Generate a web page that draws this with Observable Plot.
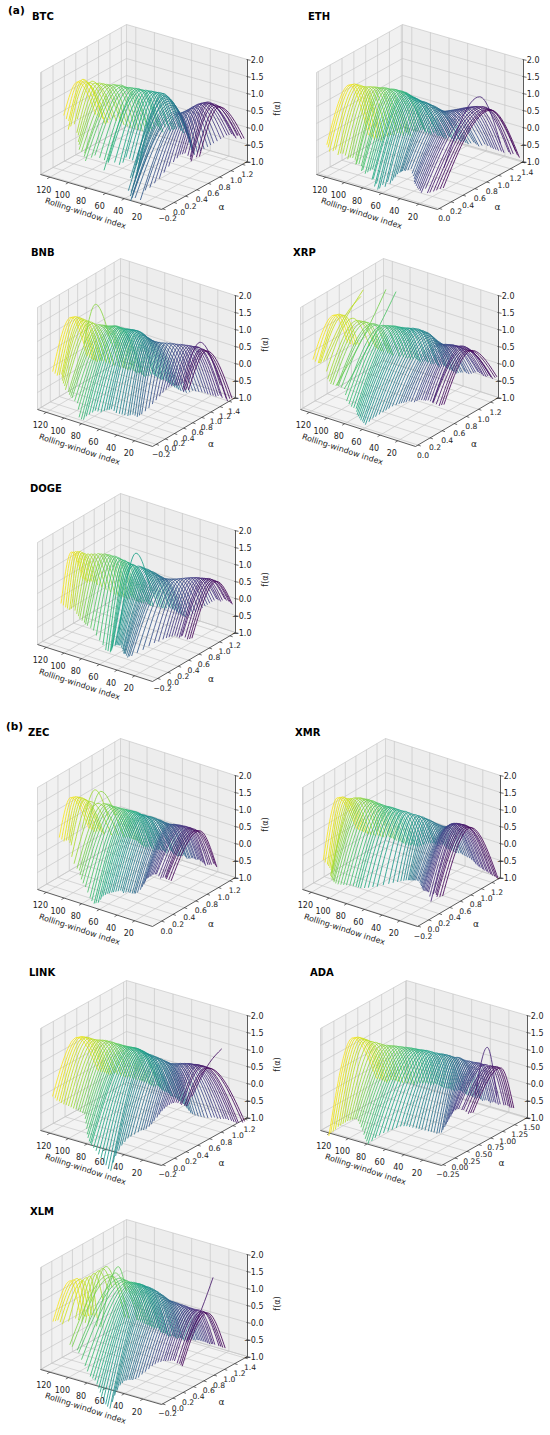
<!DOCTYPE html>
<html><head><meta charset="utf-8">
<script src="https://cdn.jsdelivr.net/npm/d3@7"></script>
<script src="https://cdn.jsdelivr.net/npm/@observablehq/plot@0.6"></script>
<style>
body{margin:0;background:#fff;font-family:"DejaVu Sans",sans-serif;}
#root{position:relative;width:550px;height:1435px;overflow:hidden;background:#fff;}
.panel{position:absolute;width:300px;height:250px;}
.title{position:absolute;font-weight:bold;font-size:10px;line-height:1;color:#000;transform:translateY(-50%);font-family:"DejaVu Sans",sans-serif;}
.tag{position:absolute;font-weight:bold;font-size:10.5px;line-height:1;color:#000;transform:translateY(-50%);font-family:"DejaVu Sans",sans-serif;}
</style></head><body><div id="root"></div>
<script>
// ---------- data ----------
// rolling windows drawn: set A and set B
const WINDOWS_A = [122,118,114,110,106,102,98,94,90,86,82,78,74,70,66,62,58,54,50,46,42,38,34,30,26,22,18,14,10,6,2];
const WINDOWS_B = [120,116,112,108,104,100,96,92,88,84,80,76,72,68,64,60,56,52,48,44,40,36,32,28,24,20,16,12,8,4];
const W_TICKS = [20,40,60,80,100,120];
const F_TICKS = [-1,-0.5,0,0.5,1,1.5,2];
const W_DOMAIN = [0,130];
const F_DOMAIN = [-1,2];
// each row: [alpha0, f(alpha0), alphaMin, f(alphaMin), alphaMax, f(alphaMax)]
const BTC = [
[0.30,1.30,0.06,0.55,0.62,0.05],[0.33,1.38,0.08,0.40,0.68,-0.10],[0.31,1.33,0.05,0.30,0.70,-0.20],[0.36,1.36,0.10,0.50,0.72,-0.05],
[0.42,1.28,0.05,0.10,0.80,-0.20],[0.48,1.22,0.00,-0.10,0.85,-0.35],[0.55,1.18,-0.02,-0.25,0.92,-0.45],[0.60,1.15,-0.04,-0.35,0.98,-0.55],[0.62,1.10,0.02,-0.40,1.00,-0.40],
[0.66,1.08,0.10,-0.45,1.02,-0.50],[0.70,1.05,0.18,-0.60,1.06,-0.40],[0.72,1.02,0.12,-0.55,1.08,-0.55],[0.75,1.00,0.25,-0.70,1.10,-0.35],[0.78,0.98,0.30,-0.50,1.12,-0.45],
[0.80,0.97,0.35,-0.60,1.12,-0.40],[0.82,0.95,0.40,-0.70,1.15,-0.45],[0.80,0.92,0.30,-0.80,1.14,-0.35],[0.78,0.88,0.20,-0.90,1.12,-0.50],[0.76,0.82,0.10,-1.00,1.10,-0.60],
[0.75,0.75,0.00,-1.05,1.05,-0.65],[0.73,0.68,-0.05,-1.15,1.00,-0.72],[0.72,0.65,-0.06,-1.10,0.98,-0.80],[0.74,0.70,0.05,-0.95,1.02,-0.70],[0.76,0.78,0.15,-0.80,1.08,-0.60],[0.78,0.88,0.25,-0.55,1.12,-0.50],
[0.79,0.98,0.35,-0.30,1.18,-0.40],[0.80,1.04,0.40,-0.10,1.22,-0.30],[0.82,1.08,0.42,-0.05,1.24,-0.25],[0.78,1.10,0.45,-0.15,1.25,-0.35],[0.80,1.06,0.40,-0.20,1.22,-0.20],[0.83,1.02,0.48,-0.10,1.26,-0.30]
];
const BTC_B = [
[0.31,1.34,0.07,0.45,0.66,-0.05],[0.32,1.36,0.04,0.20,0.69,-0.25],[0.34,1.32,0.08,0.35,0.71,-0.10],[0.38,1.30,0.06,0.15,0.75,-0.15],
[0.45,1.25,0.02,-0.05,0.82,-0.30],[0.50,1.20,-0.03,-0.20,0.88,-0.40],[0.57,1.16,0.00,-0.30,0.95,-0.50],[0.61,1.12,-0.05,-0.45,0.99,-0.45],[0.64,1.09,0.05,-0.35,1.01,-0.55],
[0.68,1.06,0.15,-0.55,1.04,-0.45],[0.71,1.03,0.08,-0.75,1.07,-0.50],[0.74,1.01,0.20,-0.60,1.09,-0.40],[0.77,0.99,0.28,-0.65,1.11,-0.50],[0.79,0.97,0.33,-0.55,1.12,-0.42],
[0.81,0.96,0.38,-0.75,1.14,-0.38],[0.81,0.93,0.25,-0.95,1.15,-0.50],[0.79,0.90,0.15,-0.85,1.13,-0.45],[0.77,0.85,0.05,-1.10,1.11,-0.55],[0.75,0.78,0.02,-1.20,1.08,-0.62],
[0.74,0.72,-0.04,-1.25,1.03,-0.70],[0.72,0.66,-0.07,-1.00,0.99,-0.78],[0.73,0.67,0.00,-1.20,1.00,-0.75],[0.75,0.74,0.10,-0.90,1.05,-0.65],[0.77,0.83,0.20,-0.70,1.10,-0.55],
[0.78,0.93,0.30,-0.40,1.15,-0.45],[0.80,1.01,0.38,-0.20,1.20,-0.35],[0.81,1.06,0.41,-0.08,1.23,-0.28],[0.79,1.09,0.44,-0.12,1.25,-0.30],[0.81,1.08,0.42,-0.18,1.24,-0.25],[0.82,1.04,0.46,-0.12,1.25,-0.32]
];
const ETH = [
[0.40,1.28,0.02,-0.10,0.72,-0.50],[0.42,1.32,0.00,-0.25,0.76,-0.65],[0.44,1.30,0.04,-0.20,0.78,-0.55],[0.46,1.27,0.06,-0.30,0.80,-0.60],
[0.50,1.26,0.08,-0.35,0.85,-0.50],[0.53,1.25,0.10,-0.40,0.90,-0.45],[0.55,1.24,0.12,-0.45,0.94,-0.55],[0.57,1.25,0.08,-0.50,0.96,-0.50],[0.60,1.22,0.10,-0.55,0.98,-0.40],
[0.62,1.21,0.06,-0.60,1.00,-0.35],[0.63,1.20,0.08,-0.65,1.02,-0.30],[0.64,1.18,0.10,-0.55,1.00,-0.35],[0.62,1.17,0.05,-0.75,1.03,-0.40],[0.61,1.16,0.04,-0.85,1.05,-0.30],
[0.60,1.15,0.03,-0.95,1.05,-0.40],[0.59,1.13,0.06,-0.90,1.06,-0.45],[0.61,1.10,0.08,-0.80,1.08,-0.40],[0.63,1.05,0.10,-0.60,1.10,-0.50],[0.65,1.00,0.12,-0.45,1.12,-0.45],
[0.66,0.95,0.10,-0.35,1.13,-0.50],[0.67,0.90,0.09,-0.30,1.15,-0.55],[0.70,0.88,0.12,-0.25,1.18,-0.50],[0.74,0.90,0.10,-0.40,1.20,-0.60],[0.78,0.92,0.05,-0.50,1.24,-0.55],[0.82,0.95,0.02,-0.55,1.28,-0.65],
[0.85,0.98,0.00,-0.60,1.30,-0.70],[0.88,1.00,-0.02,-0.65,1.33,-0.75],[0.90,1.30,0.30,-0.20,1.25,-0.40],[0.91,1.02,0.00,-0.60,1.36,-0.80],[0.92,0.98,0.05,-0.55,1.38,-0.70],[0.90,1.00,0.10,-0.50,1.38,-0.85]
];
const ETH_B = [
[0.41,1.30,0.01,-0.15,0.74,-0.55],[0.43,1.31,0.03,-0.25,0.77,-0.60],[0.45,1.28,0.05,-0.35,0.79,-0.65],[0.48,1.26,0.07,-0.30,0.83,-0.55],
[0.52,1.25,0.09,-0.45,0.88,-0.50],[0.54,1.24,0.11,-0.40,0.92,-0.50],[0.56,1.25,0.10,-0.55,0.95,-0.45],[0.58,1.23,0.09,-0.50,0.97,-0.55],[0.61,1.22,0.07,-0.65,0.99,-0.38],
[0.62,1.20,0.07,-0.70,1.01,-0.32],[0.63,1.19,0.09,-0.60,1.01,-0.33],[0.63,1.17,0.06,-0.80,1.02,-0.38],[0.61,1.16,0.04,-0.95,1.04,-0.35],[0.60,1.15,0.03,-1.00,1.05,-0.42],
[0.60,1.14,0.05,-0.85,1.06,-0.42],[0.60,1.11,0.07,-0.75,1.07,-0.45],[0.62,1.08,0.09,-0.70,1.09,-0.45],[0.64,1.02,0.11,-0.50,1.11,-0.48],[0.65,0.97,0.11,-0.40,1.12,-0.50],
[0.66,0.92,0.10,-0.32,1.14,-0.52],[0.68,0.89,0.10,-0.28,1.16,-0.52],[0.72,0.89,0.11,-0.35,1.19,-0.55],[0.76,0.91,0.08,-0.45,1.22,-0.58],[0.80,0.93,0.03,-0.52,1.26,-0.60],
[0.83,0.96,0.01,-0.58,1.29,-0.68],[0.86,0.99,-0.01,-0.62,1.31,-0.72],[0.89,1.01,0.02,-0.55,1.34,-0.78],[0.90,1.03,-0.01,-0.62,1.36,-0.75],[0.91,1.00,0.03,-0.58,1.37,-0.78],[0.91,0.99,0.08,-0.52,1.38,-0.80]
];
const BNB = [
[0.30,1.32,-0.10,0.05,0.66,-0.10],[0.32,1.36,-0.08,-0.05,0.70,-0.20],[0.34,1.34,-0.06,0.00,0.72,-0.25],[0.36,1.30,-0.12,-0.10,0.75,-0.20],
[0.42,1.22,-0.15,-0.20,0.85,-0.35],[0.45,1.75,0.20,0.80,0.75,0.60],[0.52,1.12,-0.20,-0.35,0.98,-0.50],[0.55,1.10,-0.22,-0.40,1.00,-0.55],[0.57,1.12,-0.18,-0.55,1.02,-0.50],
[0.58,1.15,-0.22,-0.90,1.04,-0.60],[0.58,1.14,-0.20,-0.95,1.05,-0.55],[0.57,1.16,-0.15,-0.80,1.06,-0.65],[0.59,1.15,-0.10,-0.70,1.08,-0.60],[0.58,1.18,-0.05,-0.75,1.10,-0.55],
[0.58,1.20,0.00,-0.70,1.10,-0.60],[0.57,1.22,0.02,-0.65,1.12,-0.65],[0.58,1.18,0.05,-0.75,1.10,-0.60],[0.56,1.15,0.10,-0.80,1.13,-0.70],[0.56,1.12,0.15,-0.85,1.14,-0.75],
[0.55,1.10,0.18,-0.80,1.15,-0.80],[0.56,1.08,0.20,-0.85,1.16,-0.85],[0.60,1.05,0.22,-0.75,1.20,-0.90],[0.68,1.00,0.30,-0.60,1.26,-0.85],[0.76,0.95,0.38,-0.40,1.32,-0.90],[0.84,0.90,0.45,-0.20,1.38,-0.95],
[0.90,0.86,0.50,-0.05,1.42,-1.00],[0.93,0.84,0.55,0.00,1.46,-1.05],[0.95,0.85,0.56,0.02,1.48,-1.00],[0.96,1.00,0.60,0.10,1.40,-0.60],[0.94,0.83,0.52,-0.05,1.48,-1.10],[0.95,0.82,0.55,0.00,1.50,-1.00]
];
const BNB_B = [
[0.31,1.34,-0.09,0.00,0.68,-0.15],[0.33,1.35,-0.07,-0.02,0.71,-0.22],[0.35,1.32,-0.09,-0.05,0.74,-0.22],[0.39,1.26,-0.14,-0.15,0.80,-0.28],
[0.44,1.18,-0.17,-0.28,0.90,-0.42],[0.49,1.14,-0.18,-0.30,0.95,-0.48],[0.54,1.11,-0.21,-0.38,0.99,-0.52],[0.56,1.11,-0.20,-0.48,1.01,-0.52],[0.58,1.13,-0.20,-0.70,1.03,-0.55],
[0.58,1.15,-0.21,-0.95,1.05,-0.58],[0.57,1.15,-0.18,-0.85,1.05,-0.60],[0.58,1.15,-0.12,-0.75,1.07,-0.62],[0.58,1.17,-0.08,-0.72,1.09,-0.58],[0.58,1.19,-0.02,-0.72,1.10,-0.58],
[0.57,1.21,0.01,-0.68,1.11,-0.62],[0.58,1.20,0.04,-0.70,1.11,-0.62],[0.57,1.16,0.08,-0.78,1.12,-0.65],[0.56,1.13,0.12,-0.82,1.13,-0.72],[0.55,1.11,0.16,-0.82,1.14,-0.78],
[0.55,1.09,0.19,-0.82,1.15,-0.82],[0.58,1.06,0.21,-0.80,1.18,-0.88],[0.64,1.02,0.26,-0.68,1.23,-0.88],[0.72,0.98,0.34,-0.50,1.29,-0.88],[0.80,0.92,0.42,-0.30,1.35,-0.92],
[0.87,0.88,0.48,-0.12,1.40,-0.98],[0.92,0.85,0.52,-0.02,1.44,-1.02],[0.94,0.84,0.55,0.01,1.47,-1.02],[0.95,0.84,0.58,0.05,1.48,-1.05],[0.95,0.83,0.54,-0.02,1.49,-1.05],[0.94,0.82,0.53,0.00,1.49,-1.02]
];
const XRP = [
[0.40,1.38,0.05,0.45,0.62,0.35],[0.42,1.42,0.08,0.35,0.66,0.25],[0.44,1.40,0.06,0.40,0.68,0.30],[0.45,1.45,0.10,0.50,0.70,1.90],
[0.55,1.20,0.06,0.00,0.85,0.10],[0.60,1.15,0.05,-0.10,0.88,0.00],[0.65,1.10,0.08,-0.15,0.90,1.80],[0.66,1.08,0.06,-0.10,0.92,-0.05],[0.68,1.05,0.10,-0.20,0.95,1.75],
[0.74,1.02,0.08,-0.50,1.02,-0.20],[0.78,1.00,0.10,-0.65,1.08,-0.30],[0.80,0.99,0.12,-0.70,1.10,-0.25],[0.82,0.98,0.08,-0.80,1.12,-0.35],[0.85,0.97,0.06,-0.85,1.15,-0.30],
[0.88,0.96,0.05,-0.90,1.18,-0.40],[0.90,0.95,0.04,-0.95,1.20,-0.35],[0.91,0.93,0.10,-0.80,1.20,-0.45],[0.92,0.90,0.15,-0.70,1.22,-0.40],[0.92,0.85,0.20,-0.60,1.22,-0.45],
[0.92,0.78,0.25,-0.50,1.24,-0.50],[0.93,0.72,0.30,-0.45,1.25,-0.55],[0.92,0.70,0.32,-0.40,1.26,-0.50],[0.91,0.72,0.35,-0.35,1.27,-0.45],[0.92,0.74,0.38,-0.38,1.28,-0.50],[0.93,0.76,0.40,-0.30,1.30,-0.45],
[0.92,0.78,0.42,-0.30,1.31,-0.40],[0.91,0.80,0.43,-0.28,1.32,-0.45],[0.93,0.82,0.45,-0.32,1.33,-0.50],[0.92,0.80,0.40,-0.25,1.33,-0.42],[0.90,0.78,0.44,-0.35,1.32,-0.48],[0.92,0.80,0.46,-0.30,1.33,-0.40]
];
const XRP_B = [
[0.41,1.40,0.06,0.40,0.64,0.30],[0.43,1.41,0.07,0.38,0.67,0.28],[0.44,1.42,0.08,0.45,0.69,1.70],[0.50,1.30,0.07,0.20,0.78,0.20],
[0.57,1.18,0.06,-0.05,0.86,0.05],[0.62,1.12,0.06,-0.12,0.89,-0.02],[0.65,1.09,0.07,-0.12,0.91,-0.05],[0.67,1.06,0.08,-0.15,0.93,-0.10],[0.71,1.04,0.09,-0.35,0.98,-0.15],
[0.76,1.01,0.09,-0.58,1.05,-0.25],[0.79,1.00,0.11,-0.68,1.09,-0.28],[0.81,0.98,0.10,-0.75,1.11,-0.30],[0.83,0.97,0.07,-0.82,1.13,-0.32],[0.86,0.96,0.05,-0.88,1.16,-0.35],
[0.89,0.95,0.04,-0.92,1.19,-0.38],[0.90,0.94,0.07,-0.88,1.20,-0.40],[0.91,0.92,0.12,-0.75,1.21,-0.42],[0.92,0.88,0.18,-0.65,1.22,-0.42],[0.92,0.82,0.22,-0.55,1.23,-0.48],
[0.92,0.75,0.28,-0.48,1.24,-0.52],[0.92,0.71,0.31,-0.42,1.25,-0.52],[0.91,0.71,0.33,-0.38,1.26,-0.48],[0.92,0.73,0.36,-0.36,1.27,-0.48],[0.92,0.75,0.39,-0.34,1.29,-0.48],
[0.92,0.77,0.41,-0.30,1.30,-0.42],[0.91,0.79,0.42,-0.29,1.31,-0.42],[0.92,0.81,0.44,-0.30,1.32,-0.48],[0.93,0.81,0.42,-0.28,1.33,-0.46],[0.91,0.79,0.42,-0.30,1.32,-0.45],[0.91,0.79,0.45,-0.32,1.33,-0.44]
];
const DOGE = [
[0.22,1.32,0.02,0.00,0.44,0.35],[0.23,1.36,0.04,-0.10,0.46,0.25],[0.25,1.38,0.05,-0.15,0.48,0.30],[0.27,1.33,0.06,-0.05,0.52,0.20],
[0.33,1.30,0.05,-0.20,0.62,0.00],[0.40,1.28,0.04,-0.30,0.72,-0.20],[0.45,1.26,0.06,-0.40,0.78,-0.30],[0.47,1.25,0.05,-0.45,0.82,-0.35],[0.50,1.22,0.10,-0.60,0.85,-0.30],
[0.52,1.18,0.15,-0.90,0.87,-0.40],[0.55,1.12,0.20,-1.20,0.90,-0.45],[0.56,1.08,0.22,-1.25,0.92,-0.40],[0.57,1.05,0.18,-1.10,0.94,-0.50],[0.58,1.40,0.25,-0.60,0.90,-0.20],
[0.60,1.02,0.12,-0.85,0.98,-0.50],[0.60,1.00,0.10,-0.80,1.00,-0.55],[0.61,0.98,0.08,-0.75,1.01,-0.45],[0.62,0.95,0.05,-0.80,1.02,-0.50],[0.62,0.92,0.00,-0.85,1.03,-0.55],
[0.63,0.88,-0.04,-0.80,1.04,-0.60],[0.63,0.85,-0.06,-0.85,1.05,-0.65],[0.66,0.84,-0.05,-0.78,1.08,-0.60],[0.72,0.82,0.10,-0.70,1.12,-0.50],[0.80,0.80,0.25,-0.60,1.18,-0.40],[0.86,0.80,0.35,-0.55,1.21,-0.30],
[0.90,0.80,0.40,-0.50,1.23,-0.20],[0.93,0.79,0.44,-0.45,1.25,-0.10],[0.95,0.80,0.46,-0.50,1.26,-0.15],[0.96,0.82,0.45,-0.40,1.27,-0.05],[0.97,0.80,0.48,-0.50,1.28,-0.10],[0.98,0.78,0.50,-0.45,1.28,-0.15]
];
const DOGE_B = [
[0.22,1.34,0.03,-0.05,0.45,0.30],[0.24,1.37,0.04,-0.12,0.47,0.28],[0.26,1.35,0.05,-0.10,0.50,0.25],[0.30,1.31,0.05,-0.12,0.57,0.10],
[0.36,1.29,0.05,-0.25,0.67,-0.10],[0.42,1.27,0.05,-0.35,0.75,-0.25],[0.46,1.25,0.05,-0.42,0.80,-0.32],[0.48,1.23,0.08,-0.52,0.83,-0.32],[0.51,1.20,0.12,-0.75,0.86,-0.35],
[0.53,1.15,0.18,-1.05,0.88,-0.42],[0.55,1.10,0.21,-1.22,0.91,-0.42],[0.56,1.06,0.20,-1.18,0.93,-0.45],[0.57,1.04,0.16,-1.00,0.95,-0.50],[0.59,1.03,0.14,-0.90,0.97,-0.50],
[0.60,1.01,0.11,-0.82,0.99,-0.52],[0.61,0.99,0.09,-0.78,1.00,-0.50],[0.61,0.96,0.06,-0.78,1.01,-0.48],[0.62,0.93,0.02,-0.82,1.02,-0.52],[0.62,0.90,-0.02,-0.82,1.03,-0.58],
[0.63,0.86,-0.05,-0.82,1.04,-0.62],[0.64,0.85,-0.06,-0.80,1.06,-0.62],[0.69,0.83,0.02,-0.74,1.10,-0.55],[0.76,0.81,0.18,-0.65,1.15,-0.45],[0.83,0.80,0.30,-0.58,1.20,-0.35],
[0.88,0.80,0.38,-0.52,1.22,-0.25],[0.92,0.80,0.42,-0.48,1.24,-0.15],[0.94,0.80,0.45,-0.48,1.25,-0.12],[0.95,0.81,0.46,-0.45,1.26,-0.10],[0.96,0.81,0.47,-0.45,1.27,-0.08],[0.97,0.79,0.49,-0.48,1.28,-0.12]
];
const ZEC = [
[0.30,1.32,0.10,0.35,0.62,0.10],[0.32,1.36,0.12,0.25,0.66,0.00],[0.34,1.35,0.14,0.30,0.68,0.05],[0.36,1.30,0.12,0.20,0.70,-0.05],
[0.48,1.50,0.25,0.60,0.72,0.40],[0.52,1.45,0.30,0.70,0.78,0.50],[0.58,1.05,0.08,-0.40,0.92,-0.25],[0.60,1.00,0.05,-0.60,0.95,-0.30],[0.64,0.95,0.06,-0.80,0.97,-0.35],
[0.67,0.92,0.08,-1.10,0.99,-0.45],[0.69,0.90,0.09,-1.25,1.00,-0.50],[0.69,0.91,0.10,-1.20,1.02,-0.45],[0.70,0.90,0.12,-1.00,1.03,-0.55],[0.69,0.89,0.14,-0.90,1.04,-0.50],
[0.69,0.90,0.15,-0.85,1.05,-0.50],[0.68,0.91,0.16,-0.80,1.05,-0.55],[0.70,0.90,0.18,-0.75,1.06,-0.45],[0.71,0.88,0.17,-0.78,1.05,-0.50],[0.72,0.86,0.19,-0.74,1.06,-0.55],
[0.72,0.84,0.20,-0.76,1.05,-0.50],[0.73,0.82,0.19,-0.72,1.05,-0.45],[0.72,0.83,0.22,-0.60,1.04,-0.50],[0.71,0.86,0.22,-0.40,1.03,-0.45],[0.70,0.90,0.21,-0.20,1.02,-0.40],[0.70,0.92,0.20,-0.10,1.01,-0.40],
[0.69,0.94,0.20,0.00,1.00,-0.35],[0.69,0.96,0.19,0.05,1.00,-0.40],[0.70,0.95,0.20,-0.05,0.99,-0.45],[0.68,0.97,0.22,0.00,1.00,-0.40],[0.69,0.94,0.18,0.02,1.01,-0.35],[0.70,0.95,0.20,-0.02,1.00,-0.40]
];
const ZEC_B = [
[0.31,1.34,0.11,0.30,0.64,0.05],[0.33,1.35,0.13,0.28,0.67,0.02],[0.35,1.33,0.13,0.25,0.69,0.00],[0.42,1.20,0.10,-0.10,0.80,-0.15],
[0.50,1.10,0.08,-0.25,0.86,-0.20],[0.55,1.08,0.07,-0.35,0.90,-0.25],[0.59,1.02,0.06,-0.50,0.94,-0.28],[0.62,0.98,0.05,-0.70,0.96,-0.32],[0.65,0.94,0.07,-0.95,0.98,-0.40],
[0.68,0.91,0.08,-1.18,0.99,-0.48],[0.69,0.90,0.09,-1.22,1.01,-0.48],[0.70,0.90,0.11,-1.10,1.02,-0.50],[0.70,0.89,0.13,-0.95,1.04,-0.52],[0.69,0.89,0.14,-0.88,1.04,-0.50],
[0.69,0.90,0.15,-0.82,1.05,-0.52],[0.69,0.90,0.17,-0.78,1.05,-0.50],[0.70,0.89,0.18,-0.76,1.06,-0.48],[0.71,0.87,0.18,-0.76,1.05,-0.52],[0.72,0.85,0.19,-0.75,1.06,-0.52],
[0.72,0.83,0.20,-0.74,1.05,-0.48],[0.72,0.82,0.20,-0.68,1.05,-0.48],[0.72,0.84,0.22,-0.50,1.04,-0.48],[0.71,0.88,0.21,-0.30,1.03,-0.42],[0.70,0.91,0.20,-0.15,1.02,-0.40],
[0.70,0.93,0.20,-0.05,1.01,-0.38],[0.69,0.95,0.20,0.02,1.00,-0.38],[0.69,0.96,0.20,0.00,1.00,-0.42],[0.69,0.96,0.21,-0.02,1.00,-0.42],[0.69,0.96,0.20,0.01,1.00,-0.38],[0.69,0.95,0.19,0.00,1.01,-0.38]
];
const XMR = [
[0.32,1.28,0.05,-0.30,0.68,0.05],[0.34,1.32,0.06,-0.40,0.70,0.00],[0.35,1.30,0.04,-0.45,0.72,-0.05],[0.37,1.31,0.02,-0.50,0.75,-0.10],
[0.42,1.32,-0.08,-0.50,0.82,-0.15],[0.45,1.31,-0.12,-0.55,0.86,-0.20],[0.47,1.30,-0.15,-0.56,0.90,-0.20],[0.50,1.26,-0.14,-0.60,0.92,-0.25],[0.53,1.20,-0.10,-0.62,0.95,-0.30],
[0.56,1.15,-0.05,-0.65,0.97,-0.35],[0.60,1.10,0.00,-0.70,1.00,-0.40],[0.62,1.08,0.02,-0.72,1.01,-0.35],[0.66,1.02,0.10,-0.75,1.04,-0.40],[0.72,0.95,0.20,-0.78,1.08,-0.35],
[0.78,0.85,0.35,-0.80,1.11,-0.30],[0.84,0.78,0.45,-0.80,1.14,-0.30],[0.86,0.75,0.50,-0.78,1.15,-0.35],[0.88,0.70,0.52,-0.75,1.17,-0.30],[0.90,0.65,0.50,-0.70,1.19,-0.40],
[0.92,0.60,0.48,-0.65,1.21,-0.45],[0.94,0.56,0.46,-0.60,1.23,-0.50],[0.95,0.55,0.45,-0.58,1.25,-0.50],[0.94,0.60,0.42,-0.62,1.26,-0.55],[0.92,0.70,0.38,-0.65,1.28,-0.60],[0.88,0.80,0.34,-0.65,1.30,-0.70],
[0.85,0.88,0.32,-0.62,1.31,-0.80],[0.83,0.93,0.30,-0.60,1.32,-0.85],[0.82,0.95,0.28,-0.82,1.33,-0.90],[0.82,0.97,0.30,-0.55,1.34,-0.95],[0.81,0.95,0.26,-0.60,1.35,-1.00],[0.83,0.94,0.30,-0.58,1.35,-1.05]
];
const XMR_B = [
[0.33,1.30,0.05,-0.35,0.69,0.02],[0.34,1.31,0.05,-0.42,0.71,-0.02],[0.36,1.30,0.03,-0.48,0.73,-0.08],[0.40,1.32,-0.03,-0.50,0.78,-0.12],
[0.44,1.32,-0.10,-0.52,0.84,-0.18],[0.46,1.30,-0.13,-0.55,0.88,-0.20],[0.48,1.28,-0.15,-0.58,0.91,-0.22],[0.51,1.23,-0.12,-0.61,0.93,-0.28],[0.54,1.18,-0.08,-0.63,0.96,-0.32],
[0.58,1.12,-0.02,-0.68,0.98,-0.38],[0.61,1.09,0.01,-0.71,1.00,-0.38],[0.64,1.05,0.06,-0.74,1.02,-0.38],[0.69,0.98,0.15,-0.76,1.06,-0.38],[0.75,0.90,0.28,-0.79,1.10,-0.32],
[0.81,0.82,0.40,-0.80,1.12,-0.30],[0.85,0.76,0.48,-0.79,1.14,-0.32],[0.87,0.72,0.51,-0.76,1.16,-0.32],[0.89,0.68,0.51,-0.72,1.18,-0.35],[0.91,0.62,0.49,-0.68,1.20,-0.42],
[0.93,0.58,0.47,-0.62,1.22,-0.48],[0.95,0.55,0.46,-0.59,1.24,-0.50],[0.95,0.57,0.44,-0.60,1.25,-0.52],[0.93,0.65,0.40,-0.63,1.27,-0.58],[0.90,0.75,0.36,-0.65,1.29,-0.65],
[0.86,0.84,0.33,-0.64,1.30,-0.75],[0.84,0.90,0.31,-0.61,1.31,-0.82],[0.83,0.94,0.29,-0.70,1.32,-0.88],[0.82,0.96,0.29,-0.60,1.33,-0.92],[0.82,0.96,0.28,-0.58,1.34,-0.98],[0.82,0.95,0.28,-0.60,1.35,-1.02]
];
const LINK = [
[0.28,1.32,-0.14,0.00,0.64,0.00],[0.30,1.36,-0.13,-0.10,0.68,-0.05],[0.32,1.35,-0.12,-0.15,0.70,-0.10],[0.35,1.30,-0.10,-0.20,0.73,-0.05],
[0.40,1.26,-0.08,-0.25,0.78,-0.15],[0.44,1.24,-0.06,-0.30,0.82,-0.20],[0.47,1.20,-0.05,-0.35,0.86,-0.25],[0.50,1.15,-0.04,-0.40,0.90,-0.30],[0.52,1.12,-0.08,-0.60,0.92,-0.35],
[0.54,1.10,-0.12,-0.85,0.94,-0.40],[0.55,1.10,-0.15,-1.00,0.95,-0.45],[0.55,1.11,-0.18,-1.05,0.96,-0.40],[0.54,1.12,-0.16,-1.20,0.95,-0.45],[0.53,1.12,-0.14,-1.40,0.95,-0.50],
[0.52,1.11,-0.12,-1.60,0.95,-0.50],[0.51,1.10,-0.10,-1.75,0.94,-0.55],[0.52,1.08,-0.08,-1.30,0.95,-0.60],[0.53,1.05,-0.04,-1.00,0.95,-0.65],[0.54,1.02,0.00,-0.80,0.95,-0.70],
[0.55,0.98,0.05,-0.70,0.95,-0.80],[0.55,0.96,0.10,-0.60,0.95,-0.90],[0.56,0.95,0.12,-0.55,0.96,-0.95],[0.57,0.97,0.15,-0.40,1.00,-1.00],[0.58,1.00,0.18,-0.20,1.05,-1.05],[0.59,1.02,0.20,0.00,1.10,-1.05],
[0.60,1.04,0.22,0.15,1.14,-1.10],[0.60,1.05,0.24,0.25,1.17,-1.10],[0.61,1.06,0.25,0.30,1.20,-1.15],[0.62,1.05,0.26,0.28,1.22,-1.20],[0.70,1.10,0.40,0.40,0.90,1.30],[0.62,1.04,0.24,0.30,1.23,-1.10]
];
const LINK_B = [
[0.29,1.34,-0.13,-0.05,0.66,-0.02],[0.31,1.35,-0.12,-0.12,0.69,-0.08],[0.33,1.33,-0.11,-0.18,0.71,-0.08],[0.37,1.28,-0.09,-0.22,0.75,-0.10],
[0.42,1.25,-0.07,-0.28,0.80,-0.18],[0.45,1.22,-0.05,-0.32,0.84,-0.22],[0.48,1.18,-0.04,-0.38,0.88,-0.28],[0.51,1.14,-0.06,-0.50,0.91,-0.32],[0.53,1.11,-0.10,-0.72,0.93,-0.38],
[0.54,1.10,-0.14,-0.92,0.94,-0.42],[0.55,1.10,-0.16,-1.02,0.95,-0.42],[0.55,1.11,-0.17,-1.12,0.96,-0.42],[0.53,1.12,-0.15,-1.30,0.95,-0.48],[0.52,1.11,-0.13,-1.50,0.95,-0.50],
[0.51,1.10,-0.11,-1.70,0.94,-0.52],[0.51,1.09,-0.09,-1.50,0.94,-0.58],[0.52,1.06,-0.06,-1.15,0.95,-0.62],[0.53,1.03,-0.02,-0.90,0.95,-0.68],[0.54,1.00,0.02,-0.75,0.95,-0.75],
[0.55,0.97,0.08,-0.65,0.95,-0.85],[0.55,0.95,0.11,-0.58,0.95,-0.92],[0.56,0.96,0.14,-0.48,0.98,-0.98],[0.57,0.98,0.16,-0.30,1.02,-1.02],[0.58,1.01,0.19,-0.10,1.08,-1.05],
[0.59,1.03,0.21,0.08,1.12,-1.08],[0.60,1.04,0.23,0.20,1.16,-1.10],[0.61,1.05,0.24,0.28,1.18,-1.12],[0.61,1.06,0.25,0.30,1.21,-1.18],[0.62,1.05,0.25,0.28,1.22,-1.18],[0.62,1.04,0.24,0.30,1.23,-1.15]
];
const ADA = [
[0.24,1.38,-0.26,-1.10,0.74,-0.20],[0.26,1.42,-0.25,-0.95,0.78,-0.25],[0.28,1.40,-0.22,-0.80,0.80,-0.30],[0.30,1.36,-0.20,-0.70,0.82,-0.20],
[0.40,1.25,-0.18,-0.60,0.86,-0.25],[0.48,1.15,-0.16,-0.55,0.90,-0.30],[0.55,1.10,-0.15,-0.50,0.95,-0.30],[0.60,1.08,-0.16,-0.60,0.98,-0.35],[0.65,1.05,-0.18,-0.75,1.02,-0.30],
[0.70,1.02,-0.20,-0.95,1.06,-0.30],[0.73,1.00,-0.22,-1.05,1.10,-0.35],[0.75,0.99,-0.15,-0.90,1.12,-0.30],[0.78,0.98,-0.05,-0.80,1.14,-0.35],[0.81,0.96,0.05,-0.75,1.16,-0.40],
[0.84,0.92,0.15,-0.70,1.18,-0.40],[0.87,0.90,0.20,-0.70,1.20,-0.45],[0.88,0.91,0.25,-0.75,1.21,-0.40],[0.88,0.92,0.30,-0.80,1.22,-0.45],[0.89,0.90,0.35,-0.85,1.23,-0.50],
[0.89,0.90,0.40,-0.90,1.24,-0.50],[0.90,0.92,0.44,-0.95,1.25,-0.55],[0.89,0.90,0.46,-0.90,1.25,-0.50],[0.91,0.88,0.45,-0.70,1.24,-0.55],[0.93,0.87,0.43,-0.50,1.24,-0.50],[0.95,0.86,0.42,-0.30,1.25,-0.55],
[0.96,0.86,0.40,-0.10,1.25,-0.50],[0.97,0.85,0.39,0.00,1.26,-0.55],[0.95,1.40,0.70,0.20,1.15,-0.20],[0.98,0.86,0.38,0.05,1.26,-0.50],[0.99,0.87,0.40,-0.05,1.27,-0.55],[1.00,0.85,0.42,0.00,1.27,-0.53]
];
const ADA_B = [
[0.25,1.40,-0.26,-1.00,0.76,-0.22],[0.27,1.41,-0.24,-0.88,0.79,-0.28],[0.29,1.38,-0.21,-0.75,0.81,-0.25],[0.35,1.30,-0.19,-0.65,0.84,-0.22],
[0.44,1.20,-0.17,-0.58,0.88,-0.28],[0.52,1.12,-0.15,-0.52,0.93,-0.30],[0.58,1.09,-0.15,-0.55,0.97,-0.32],[0.63,1.06,-0.17,-0.68,1.00,-0.32],[0.68,1.03,-0.19,-0.85,1.04,-0.30],
[0.72,1.01,-0.21,-1.00,1.08,-0.32],[0.74,1.00,-0.18,-0.98,1.11,-0.32],[0.77,0.98,-0.10,-0.85,1.13,-0.32],[0.80,0.97,0.00,-0.78,1.15,-0.38],[0.83,0.94,0.10,-0.72,1.17,-0.40],
[0.86,0.91,0.18,-0.70,1.19,-0.42],[0.88,0.90,0.22,-0.72,1.20,-0.42],[0.88,0.91,0.28,-0.78,1.22,-0.42],[0.89,0.91,0.32,-0.82,1.23,-0.48],[0.89,0.90,0.38,-0.88,1.23,-0.50],
[0.90,0.91,0.42,-0.92,1.24,-0.52],[0.90,0.91,0.45,-0.92,1.25,-0.52],[0.90,0.89,0.45,-0.80,1.24,-0.52],[0.92,0.88,0.44,-0.60,1.24,-0.52],[0.94,0.86,0.42,-0.40,1.25,-0.52],
[0.96,0.86,0.41,-0.20,1.25,-0.52],[0.96,0.85,0.40,-0.05,1.25,-0.52],[0.97,0.86,0.39,0.02,1.26,-0.52],[0.97,0.86,0.38,0.03,1.26,-0.52],[0.98,0.86,0.39,0.00,1.27,-0.52],[0.99,0.86,0.41,-0.02,1.27,-0.54]
];
const XLM = [
[0.22,1.30,-0.12,0.40,0.40,0.20],[0.28,1.35,-0.10,0.45,0.44,0.10],[0.32,1.28,-0.08,0.35,0.48,0.15],[0.38,1.40,0.10,0.40,0.52,0.05],
[0.48,1.50,0.15,0.30,0.66,0.80],[0.55,1.60,0.20,0.20,0.74,0.90],[0.60,1.30,-0.18,-0.10,0.92,-0.20],[0.64,1.58,0.30,0.10,0.80,0.70],[0.68,1.20,-0.20,-0.20,1.00,-0.30],
[0.70,1.15,-0.15,-0.60,1.02,-0.35],[0.72,1.15,-0.12,-0.90,1.04,-0.40],[0.71,1.16,-0.10,-1.00,1.05,-0.45],[0.70,1.18,-0.10,-1.20,1.05,-0.40],[0.68,1.20,-0.12,-1.40,1.05,-0.50],
[0.66,1.21,-0.11,-1.60,1.05,-0.50],[0.65,1.22,-0.10,-1.70,1.04,-0.55],[0.65,1.20,-0.08,-1.30,1.05,-0.50],[0.66,1.15,-0.05,-1.00,1.05,-0.55],[0.66,1.10,-0.03,-0.85,1.05,-0.50],
[0.66,1.05,-0.02,-0.80,1.05,-0.55],[0.66,1.00,-0.02,-0.77,1.05,-0.50],[0.67,0.98,0.02,-0.70,1.05,-0.45],[0.68,0.96,0.08,-0.55,1.05,-0.45],[0.69,0.94,0.14,-0.40,1.04,-0.40],[0.70,0.92,0.18,-0.30,1.04,-0.40],
[0.70,0.90,0.22,-0.25,1.04,-0.40],[0.70,0.90,0.23,-0.23,1.04,-0.42],[0.72,0.88,0.25,-0.20,1.03,-0.38],[0.74,0.92,0.45,0.20,0.96,1.65],[0.70,0.90,0.24,-0.22,1.04,-0.40],[0.71,0.89,0.22,-0.25,1.05,-0.42]
];
const XLM_B = [
[0.25,1.32,-0.11,0.42,0.42,0.15],[0.30,1.33,-0.09,0.40,0.46,0.12],[0.35,1.36,0.00,0.38,0.50,0.10],[0.43,1.45,0.12,0.35,0.60,0.50],
[0.52,1.55,0.18,0.25,0.70,0.85],[0.58,1.35,-0.19,-0.05,0.88,-0.15],[0.62,1.40,0.25,0.15,0.82,0.75],[0.66,1.25,-0.19,-0.15,0.98,-0.25],[0.69,1.18,-0.18,-0.40,1.01,-0.32],
[0.71,1.15,-0.14,-0.75,1.03,-0.38],[0.72,1.15,-0.11,-0.95,1.04,-0.42],[0.71,1.17,-0.10,-1.10,1.05,-0.42],[0.69,1.19,-0.11,-1.30,1.05,-0.45],[0.67,1.20,-0.12,-1.50,1.05,-0.50],
[0.66,1.21,-0.11,-1.65,1.05,-0.52],[0.65,1.21,-0.09,-1.50,1.04,-0.52],[0.65,1.18,-0.07,-1.15,1.05,-0.52],[0.66,1.12,-0.04,-0.92,1.05,-0.52],[0.66,1.08,-0.03,-0.82,1.05,-0.52],
[0.66,1.02,-0.02,-0.78,1.05,-0.52],[0.66,0.99,0.00,-0.74,1.05,-0.48],[0.67,0.97,0.05,-0.62,1.05,-0.45],[0.68,0.95,0.11,-0.48,1.05,-0.42],[0.69,0.93,0.16,-0.35,1.04,-0.40],
[0.70,0.91,0.20,-0.28,1.04,-0.40],[0.70,0.90,0.22,-0.24,1.04,-0.41],[0.71,0.89,0.24,-0.22,1.04,-0.40],[0.72,0.89,0.25,-0.20,1.03,-0.38],[0.71,0.90,0.23,-0.22,1.04,-0.40],[0.70,0.90,0.23,-0.24,1.04,-0.41]
];
// alpha tick labels per coin
const A_TICKS = {
  BTC:[-0.2,0,0.2,0.4,0.6,0.8,1.0,1.2],
  ETH:[0,0.2,0.4,0.6,0.8,1.0,1.2,1.4],
  BNB:[-0.2,0,0.2,0.4,0.6,0.8,1.0,1.2,1.4],
  XRP:[0,0.2,0.4,0.6,0.8,1.0,1.2],
  DOGE:[-0.2,0,0.2,0.4,0.6,0.8,1.0,1.2],
  ZEC:[0,0.2,0.4,0.6,0.8,1.0,1.2],
  XMR:[-0.2,0,0.2,0.4,0.6,0.8,1.0,1.2],
  LINK:[-0.2,0,0.2,0.4,0.6,0.8,1.0,1.2],
  ADA:[-0.25,0,0.25,0.5,0.75,1.0,1.25,1.5],
  XLM:[-0.2,0,0.2,0.4,0.6,0.8,1.0,1.2,1.4]
};
const A_DOMAIN = {
  BTC:[-0.22,1.29], ETH:[-0.03,1.42], BNB:[-0.28,1.54], XRP:[-0.04,1.33], DOGE:[-0.30,1.31],
  ZEC:[-0.16,1.30], XMR:[-0.21,1.36], LINK:[-0.22,1.25], ADA:[-0.28,1.52], XLM:[-0.22,1.45]
};
const SERIES = {
  BTC:[BTC,BTC_B], ETH:[ETH,ETH_B], BNB:[BNB,BNB_B], XRP:[XRP,XRP_B], DOGE:[DOGE,DOGE_B],
  ZEC:[ZEC,ZEC_B], XMR:[XMR,XMR_B], LINK:[LINK,LINK_B], ADA:[ADA,ADA_B], XLM:[XLM,XLM_B]
};

// ---------- layout ----------
const LAYOUT = [
  {name:"BTC", xr:247, yt:61, g:"L", tx:32, ty:17, flab:true},
  {name:"ETH", xr:523, yt:61, g:"L", tx:308, ty:17, flab:false},
  {name:"BNB", xr:235, yt:297, g:"S", tx:31, ty:253, flab:true},
  {name:"XRP", xr:498, yt:297, g:"S", tx:293, ty:253, flab:false},
  {name:"DOGE", xr:235, yt:532, g:"S", tx:30, ty:489, flab:true},
  {name:"ZEC", xr:235, yt:777, g:"S", tx:28, ty:733, flab:true},
  {name:"XMR", xr:500, yt:777, g:"S", tx:295, ty:733, flab:false},
  {name:"LINK", xr:247, yt:1017, g:"L", tx:29, ty:973, flab:true},
  {name:"ADA", xr:527, yt:1017, g:"L", tx:310, ty:973, flab:false},
  {name:"XLM", xr:247, yt:1256, g:"L", tx:30, ty:1212, flab:true}
];
const TAGS = [{t:"(a)", x:8, y:10}, {t:"(b)", x:6, y:726}];
const GEOM = {
  L:{fx:-86,fy:148,lx:-121,ly:-35,rx:86,ry:-48,zh:102},
  S:{fx:-83,fy:149,lx:-115,ly:-37,rx:83,ry:-49,zh:102}
};
const OX = 250, OY = 75, PW = 300, PH = 250;
const FONT = "DejaVu Sans";

const root = document.getElementById("root");
const minus = s => s.replace("-", "\u2212");

for (const P of LAYOUT) {
  const G = GEOM[P.g];
  const [a0, a1] = A_DOMAIN[P.name];
  const [w0, w1] = W_DOMAIN, [f0, f1] = F_DOMAIN;
  const ticksA = A_TICKS[P.name];
  const dec = P.name === "ADA" ? 2 : 1;
  const pr = (w, a, f) => {
    const u = (w - w0) / (w1 - w0), v = (a - a0) / (a1 - a0), z = (f - f0) / (f1 - f0);
    return {x: OX + G.fx + G.lx * u + G.rx * v, y: OY + G.fy + G.ly * u + G.ry * v - G.zh * z};
  };
  const panes = [
    {fill:"#f3f3f3", pts:[[w0,a0,f0],[w1,a0,f0],[w1,a1,f0],[w0,a1,f0]]},
    {fill:"#f1f1f1", pts:[[w1,a0,f0],[w1,a1,f0],[w1,a1,f1],[w1,a0,f1]]},
    {fill:"#ededed", pts:[[w1,a1,f0],[w0,a1,f0],[w0,a1,f1],[w1,a1,f1]]}
  ];
  const grid = [];
  for (const t of ticksA) { grid.push([pr(w0,t,f0), pr(w1,t,f0)]); grid.push([pr(w1,t,f0), pr(w1,t,f1)]); }
  for (const t of W_TICKS) { grid.push([pr(t,a0,f0), pr(t,a1,f0)]); grid.push([pr(t,a1,f0), pr(t,a1,f1)]); }
  for (const t of F_TICKS) { grid.push([pr(w1,a0,t), pr(w1,a1,t)]); grid.push([pr(w1,a1,t), pr(w0,a1,t)]); }
  grid.push([pr(w1,a0,f0), pr(w1,a0,f1)]);
  grid.push([pr(w1,a1,f0), pr(w1,a1,f1)]);
  grid.push([pr(w1,a0,f0), pr(w1,a1,f0)]);
  grid.push([pr(w1,a1,f0), pr(w0,a1,f0)]);
  const axes = [
    [pr(w0,a0,f0), pr(w1,a0,f0)],
    [pr(w0,a0,f0), pr(w0,a1,f0)],
    [pr(w0,a1,f0), pr(w0,a1,f1)]
  ];
  const nR = Math.hypot(G.rx, G.ry), nL = Math.hypot(G.lx, G.ly);
  const ticks = [];
  for (const t of W_TICKS) { const p = pr(t,a0,f0); ticks.push([p, {x:p.x - 3*G.rx/nR, y:p.y - 3*G.ry/nR}]); }
  for (const t of ticksA) { const p = pr(w0,t,f0); ticks.push([p, {x:p.x - 3*G.lx/nL, y:p.y - 3*G.ly/nL}]); }
  for (const t of F_TICKS) { const p = pr(w0,a1,t); ticks.push([{x:p.x-1, y:p.y}, {x:p.x + 3, y:p.y + 0.8}]); }

  const wLabels = W_TICKS.map(t => { const p = pr(t,a0,f0); return {x:p.x - 6, y:p.y + 13, text:String(t)}; });
  const aLabels = ticksA.map(t => { const p = pr(w0,t,f0); return {x:p.x + 5, y:p.y + 10, text:minus(t.toFixed(dec))}; });
  const fLabels = F_TICKS.map(t => { const p = pr(w0,a1,t); return {x:p.x + 16, y:p.y + 1, text:minus(t.toFixed(1))}; });
  const mW = pr((w0+w1)/2, a0, f0), mA = pr(w0, (a0+a1)/2, f0), mF = pr(w0, a1, (f0+f1)/2);

  // curves: merge both window sets, draw far (high window) first
  const [rowsA, rowsB] = SERIES[P.name];
  const all = [
    ...rowsA.map((r, i) => ({w: WINDOWS_A[i], r})),
    ...rowsB.map((r, i) => ({w: WINDOWS_B[i], r}))
  ].sort((p, q) => q.w - p.w);
  const curves = [];
  all.forEach(({w, r}) => {
    const [ac, fc, aL, fL, aR, fR] = r;
    [[aL,fL],[ac,fc],[aR,fR]].forEach(([a,f]) => { const p = pr(w,a,f); curves.push({x:p.x, y:p.y, w, id:w}); });
  });

  const seg = {x1:d=>d[0].x, y1:d=>d[0].y, x2:d=>d[1].x, y2:d=>d[1].y};
  const marks = [
    ...panes.map(p => Plot.line(p.pts.map(q => pr(...q)), {x:"x", y:"y", fill:p.fill, stroke:"none"})),
    Plot.link(grid, {...seg, stroke:"#c4c4c4", strokeWidth:0.65}),
    Plot.link(axes, {...seg, stroke:"#333", strokeWidth:0.8}),
    Plot.link(ticks, {...seg, stroke:"#333", strokeWidth:0.7}),
    Plot.line(curves, {x:"x", y:"y", z:"id", stroke:"w", strokeWidth:0.85, strokeOpacity:1, curve:"monotone-x"}),
    Plot.text(wLabels, {x:"x", y:"y", text:"text", fontSize:8, fill:"#222"}),
    Plot.text(aLabels, {x:"x", y:"y", text:"text", fontSize:7.6, fill:"#222"}),
    Plot.text(fLabels, {x:"x", y:"y", text:"text", fontSize:8, fill:"#222", textAnchor:"end"}),
    Plot.text([{x:mW.x - 15.5, y:mW.y + 21.5}], {x:"x", y:"y", text:()=>"Rolling-window index", fontSize:8, fill:"#222", rotate:18}),
    Plot.text([{x:mA.x + 17, y:mA.y + 22}], {x:"x", y:"y", text:()=>"\u03b1", fontSize:9, fill:"#222"})
  ];
  if (P.flab) marks.push(Plot.text([{x:mF.x + 30, y:mF.y - 2}], {x:"x", y:"y", text:()=>"f(\u03b1)", fontSize:8, fill:"#222", rotate:-90}));
  const svg = Plot.plot({
    width: PW, height: PH, margin: 0,
    x: {domain:[0,PW], range:[0,PW], axis:null},
    y: {domain:[0,PH], range:[0,PH], axis:null},
    color: {type:"linear", scheme:"viridis", domain:[1,123]},
    style: {background:"transparent", overflow:"visible", fontFamily:FONT},
    marks
  });
  const box = document.createElement("div");
  box.className = "panel";
  box.style.left = (P.xr - OX) + "px";
  box.style.top = (P.yt - OY) + "px";
  box.appendChild(svg);
  root.appendChild(box);
  const t = document.createElement("div");
  t.className = "title";
  t.textContent = P.name;
  t.style.left = P.tx + "px"; t.style.top = P.ty + "px";
  root.appendChild(t);
}
for (const g of TAGS) {
  const d = document.createElement("div");
  d.className = "tag"; d.textContent = g.t;
  d.style.left = g.x + "px"; d.style.top = g.y + "px";
  root.appendChild(d);
}
</script></body></html>
